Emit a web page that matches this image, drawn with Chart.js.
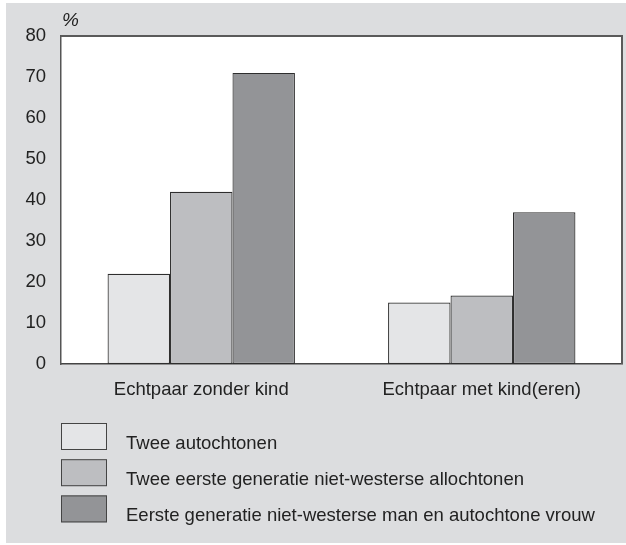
<!DOCTYPE html>
<html>
<head>
<meta charset="utf-8">
<script src="https://cdn.jsdelivr.net/npm/chart.js@4.4.1/dist/chart.umd.min.js"></script>
<style>
  html, body { margin: 0; padding: 0; background: #fff; }
  #panel { position: absolute; left: 6px; top: 3px; width: 620px; height: 540px; background: #dcdddf; }
</style>
</head>
<body>
<div id="panel"><canvas id="chart" width="620" height="540"></canvas></div>
<script>
  var CATEGORIES = ["Echtpaar zonder kind", "Echtpaar met kind(eren)"];
  var SERIES_LABELS = [
    "Twee autochtonen",
    "Twee eerste generatie niet-westerse allochtonen",
    "Eerste generatie niet-westerse man en autochtone vrouw"
  ];
  var TWEE_AUTOCHTONEN = [22, 15];
  var TWEE_ALLOCHTONEN = [42, 16.7];
  var GEMENGD = [71, 37];
  var Y_TICKS = [0, 10, 20, 30, 40, 50, 60, 70, 80];

  var FONT = '"Liberation Sans", Arial, sans-serif';
  var TEXT = "#222";
  var FILLS = ["#e4e5e7", "#bdbec1", "#939497"];

  // white plot area on the grey panel
  var plotBg = {
    id: "plotBg",
    beforeDraw: function (chart) {
      var a = chart.chartArea, c = chart.ctx;
      c.save();
      c.fillStyle = "#fff";
      c.fillRect(a.left, a.top, a.right - a.left, a.bottom - a.top);
      c.restore();
    }
  };

  // top and right edges of the box, plus the "%" unit above the axis
  var frame = {
    id: "frame",
    afterDraw: function (chart) {
      var a = chart.chartArea, c = chart.ctx;
      c.save();
      c.strokeStyle = "#5a5a5a";
      c.lineWidth = 2;
      c.beginPath();
      c.moveTo(a.left, a.top);
      c.lineTo(a.right, a.top);
      c.lineTo(a.right, a.bottom);
      c.stroke();
      c.fillStyle = TEXT;
      c.font = "italic 19px " + FONT;
      c.textBaseline = "alphabetic";
      c.fillText("%", a.left + 1, a.top - 10);
      c.restore();
    }
  };

  // stacked legend below the axis: box, then label sitting on its bottom
  var legendBoxes = {
    id: "legendBoxes",
    afterDraw: function (chart) {
      var c = chart.ctx, left = chart.chartArea.left;
      c.save();
      c.font = "18.5px " + FONT;
      c.textBaseline = "alphabetic";
      chart.data.datasets.forEach(function (ds, i) {
        var top = 420 + i * 36.2;
        c.fillStyle = ds.backgroundColor;
        c.fillRect(left, top, 46, 27);
        c.strokeStyle = "#444";
        c.lineWidth = 1;
        c.strokeRect(left + 0.5, top + 0.5, 45, 26);
        c.fillStyle = TEXT;
        c.fillText(ds.label, left + 65, top + 26);
      });
      c.restore();
    }
  };

  function series(label, data, i) {
    return {
      label: label,
      data: data,
      backgroundColor: FILLS[i],
      borderColor: "#2e2e2e",
      borderWidth: 1.2,
      borderSkipped: false,
      categoryPercentage: 0.668,
      barPercentage: 1
    };
  }

  new Chart(document.getElementById("chart").getContext("2d"), {
    type: "bar",
    plugins: [plotBg, frame, legendBoxes],
    data: {
      labels: CATEGORIES,
      datasets: [
        series(SERIES_LABELS[0], TWEE_AUTOCHTONEN, 0),
        series(SERIES_LABELS[1], TWEE_ALLOCHTONEN, 1),
        series(SERIES_LABELS[2], GEMENGD, 2)
      ]
    },
    options: {
      responsive: false,
      animation: false,
      devicePixelRatio: 1,
      layout: { padding: { top: 33, right: 4, left: 0, bottom: 0 } },
      plugins: { legend: { display: false }, tooltip: { enabled: false } },
      scales: {
        x: {
          grid: { display: false },
          border: { color: "#444", width: 1.5 },
          ticks: { color: TEXT, font: { family: FONT, size: 18.5 }, padding: 7 },
          afterFit: function (s) { s.height = 179; }
        },
        y: {
          min: 0,
          max: 80,
          grid: { display: false },
          border: { color: "#555", width: 1.5 },
          ticks: { color: TEXT, font: { family: FONT, size: 18.5 }, padding: 7 },
          afterBuildTicks: function (s) {
            s.ticks = Y_TICKS.map(function (v) { return { value: v }; });
          },
          afterFit: function (s) { s.width = 55; }
        }
      }
    }
  });
</script>
</body>
</html>
